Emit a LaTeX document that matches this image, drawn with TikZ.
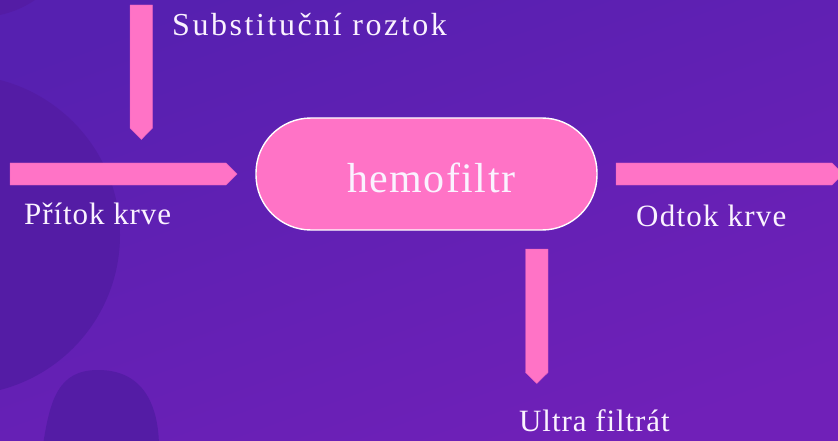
\documentclass[tikz,border=0pt]{standalone}
\usepackage{fontspec}
\setmainfont{Liberation Serif}
\definecolor{bgtop}{RGB}{86,32,176}
\definecolor{bgbot}{RGB}{112,32,184}
\definecolor{blob}{RGB}{84,28,165}
\definecolor{pinkc}{RGB}{255,115,198}
\definecolor{pinkedge}{RGB}{230,95,190}
\definecolor{txt}{RGB}{250,242,255}
\tikzset{
  pinkarrow/.style={fill=pinkc, draw=pinkedge, line width=0.4pt, line join=miter},
  lbl/.style={text=txt, inner sep=0pt, anchor=base west},
  filterbox/.style={fill=pinkc, draw=white, line width=1.4pt, rounded corners=55pt, minimum width=341pt, minimum height=112pt, inner sep=0pt}
}
\begin{document}
\begin{tikzpicture}[x=1pt,y=-1pt]
\useasboundingbox (0,0) rectangle (838,441);
\clip (0,0) rectangle (838,441);
% background
\shade[top color=bgtop, bottom color=bgbot, shading angle=20] (-10,-10) rectangle (848,451);
% darker decorative shapes
\fill[blob] (-40,235) circle[radius=160];
\fill[blob] (-20,-80) circle[radius=97];
\fill[blob] (43,445) .. controls (50,400) and (58,370) .. (98,370)
   .. controls (140,370) and (158,400) .. (159,445) -- cycle;
% central filter
\node[filterbox] (hf) at (426.5,174) {};
\node[lbl, font={\fontsize{42}{48}\selectfont\addfontfeature{LetterSpace=3.5}}] (hflbl) at (347,192) {hemofiltr};
% arrows
\draw[pinkarrow] (130,5) -- (152.5,5) -- (152.5,128) -- (141.3,139.5) -- (130,128) -- cycle;
\draw[pinkarrow] (10,163) -- (226,163) -- (237,174) -- (226,185) -- (10,185) -- cycle;
\draw[pinkarrow] (616,163) -- (832,163) -- (843,174) -- (832,185) -- (616,185) -- cycle;
\draw[pinkarrow] (525.5,249) -- (548,249) -- (548,372.5) -- (536.8,383.5) -- (525.5,372.5) -- cycle;
% labels
\node[lbl, font={\fontsize{32}{38}\selectfont\addfontfeature{LetterSpace=8}}] (sub) at (172,36) {Substituční roztok};
\node[lbl, font={\fontsize{31}{36}\selectfont\addfontfeature{LetterSpace=3}}] (in) at (24,224) {Přítok krve};
\node[lbl, font={\fontsize{31}{36}\selectfont\addfontfeature{LetterSpace=4}}] (out) at (636,226) {Odtok krve};
\node[lbl, font={\fontsize{31}{36}\selectfont\addfontfeature{LetterSpace=3}}] (uf) at (519,431) {Ultra filtrát};
\end{tikzpicture}
\end{document}
